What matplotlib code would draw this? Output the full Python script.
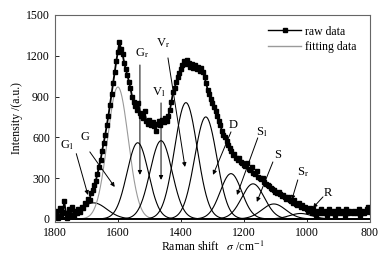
import matplotlib
matplotlib.use("Agg")
import matplotlib.pyplot as plt
import numpy as np

plt.rcParams["font.family"] = ["Liberation Serif", "DejaVu Serif"]
plt.rcParams["mathtext.fontset"] = "stix"

# ── Raw spectrum (5 cm^-1 steps from 1800 to 800) ──
raw_shift = np.arange(1800, 799, -5)
raw_intensity = [
    30, 60, 10, 80, 20, 50, 130, 40, 10, 70, 30, 90, 20, 60, 40,
    70, 50, 90, 80, 120, 110,
    150, 140, 190, 210, 250, 280, 330, 380, 430, 500,
    560, 620, 690, 760, 840, 920, 1000, 1080, 1160, 1230,
    1300, 1250, 1210, 1150, 1100, 1060, 1010, 960, 900, 860,
    830, 800, 850, 780, 760, 740, 790, 720, 700, 730,
    690, 710, 680, 650, 700, 720, 690, 730, 710, 740,
    720, 760, 800, 860, 930, 960, 1010, 1040, 1070, 1100,
    1130, 1160, 1140, 1170, 1150, 1120, 1140, 1110, 1130, 1100,
    1120, 1090, 1110, 1080, 1040, 1000, 950, 920, 880, 850,
    820, 790, 760, 720, 690, 650, 620, 600, 570, 540,
    520, 500, 470, 480, 450, 430, 450, 420, 410, 400,
    390, 410, 370, 360, 380, 340, 330, 350, 310, 300,
    290, 300, 270, 260, 250, 240, 230, 220, 210, 200,
    190, 200, 180, 170, 175, 160, 150, 160, 140, 130,
    120, 140, 110, 100, 120, 90, 100, 80, 90, 70,
    60, 80, 40, 70, 50, 30, 60, 40, 70, 50,
    40, 60, 30, 70, 50, 40, 60, 30, 50, 70,
    40, 60, 50, 30, 70, 40, 60, 50, 40, 60,
    50, 40, 70, 30, 60, 40, 50, 70, 90, 50,
]

# ── Fitted bands: centre (cm^-1), height, width (sigma) ──
band_names = ["Gl", "G", "Gr", "Vl", "Vr", "D", "Sl", "S", "Sr", "R"]
band_centers = [1677, 1600, 1537, 1463, 1384, 1321, 1241, 1171, 1105, 1020]
band_heights = [118, 970, 560, 575, 855, 750, 333, 258, 110, 40]
band_widths = [42, 33, 34, 35, 36, 35, 34, 36, 38, 35]

# ── Labels: text position, arrow tail, arrow tip ──
label_texts = [r"G$_\mathrm{l}$", "G", r"G$_\mathrm{r}$", r"V$_\mathrm{l}$",
               r"V$_\mathrm{r}$", "D", r"S$_\mathrm{l}$", "S",
               r"S$_\mathrm{r}$", "R"]
label_xy = [(1762, 544), (1705, 603), (1524, 1221), (1470, 934),
            (1457, 1294), (1235, 691), (1143, 640), (1092, 471),
            (1013, 346), (933, 191)]
arrow_tail = [(1732, 480), (1689, 493), (1530, 1132), (1463, 853),
              (1441, 1184), (1241, 640), (1156, 596), (1108, 419),
              (1029, 287), (949, 162)]
arrow_tip = [(1695, 176), (1610, 235), (1530, 324), (1463, 287),
             (1387, 382), (1298, 324), (1222, 176), (1159, 125),
             (1048, 140), (981, 81)]

fig = plt.figure(figsize=(3.89, 2.62), dpi=100)
ax = fig.add_axes([0.141, 0.153, 0.81, 0.79])

fit_x = np.linspace(1800, 800, 1001)
for name, c, h, w in zip(band_names, band_centers, band_heights, band_widths):
    y = h * np.exp(-0.5 * ((fit_x - c) / w) ** 2)
    color = "#9a9a9a" if name == "G" else "black"
    ax.plot(fit_x, y, color=color, lw=0.8)

ax.plot(raw_shift, raw_intensity, color="black", lw=1.3, marker="s",
        ms=3.3, label="raw data")
ax.plot([], [], color="#9a9a9a", lw=1.0, label="fitting data")

for txt, pos, tail, tip in zip(label_texts, label_xy, arrow_tail, arrow_tip):
    ax.text(pos[0], pos[1], txt, ha="center", va="center", fontsize=9)
    ax.annotate("", xy=tip, xytext=tail,
                arrowprops=dict(arrowstyle="-|>", lw=0.7, color="black",
                                mutation_scale=6, shrinkA=0, shrinkB=0))

ax.set_xlim(1800, 800)
ax.set_ylim(-22, 1500)
ax.set_xticks([1800, 1600, 1400, 1200, 1000, 800])
ax.set_yticks([0, 300, 600, 900, 1200, 1500])
ax.tick_params(direction="in", length=3, labelsize=8.5, width=0.6)
for sp in ax.spines.values():
    sp.set_color("#666666")
    sp.set_linewidth(0.8)

ax.set_xlabel(r"Raman shift   $\sigma$ /cm$^{-1}$", fontsize=8.5, labelpad=1)
ax.set_ylabel("Intensity /(a.u.)", fontsize=8.5, labelpad=2)

leg = ax.legend(loc="upper right", bbox_to_anchor=(0.99, 1.0), frameon=False,
                fontsize=8.5, handlelength=2.8, handletextpad=0.3,
                labelspacing=0.3, markerfirst=True, numpoints=1)
leg.get_lines()[0].set_markersize(2.5)
leg.get_lines()[0].set_linewidth(1.0)

fig.savefig("out.png", dpi=100)
